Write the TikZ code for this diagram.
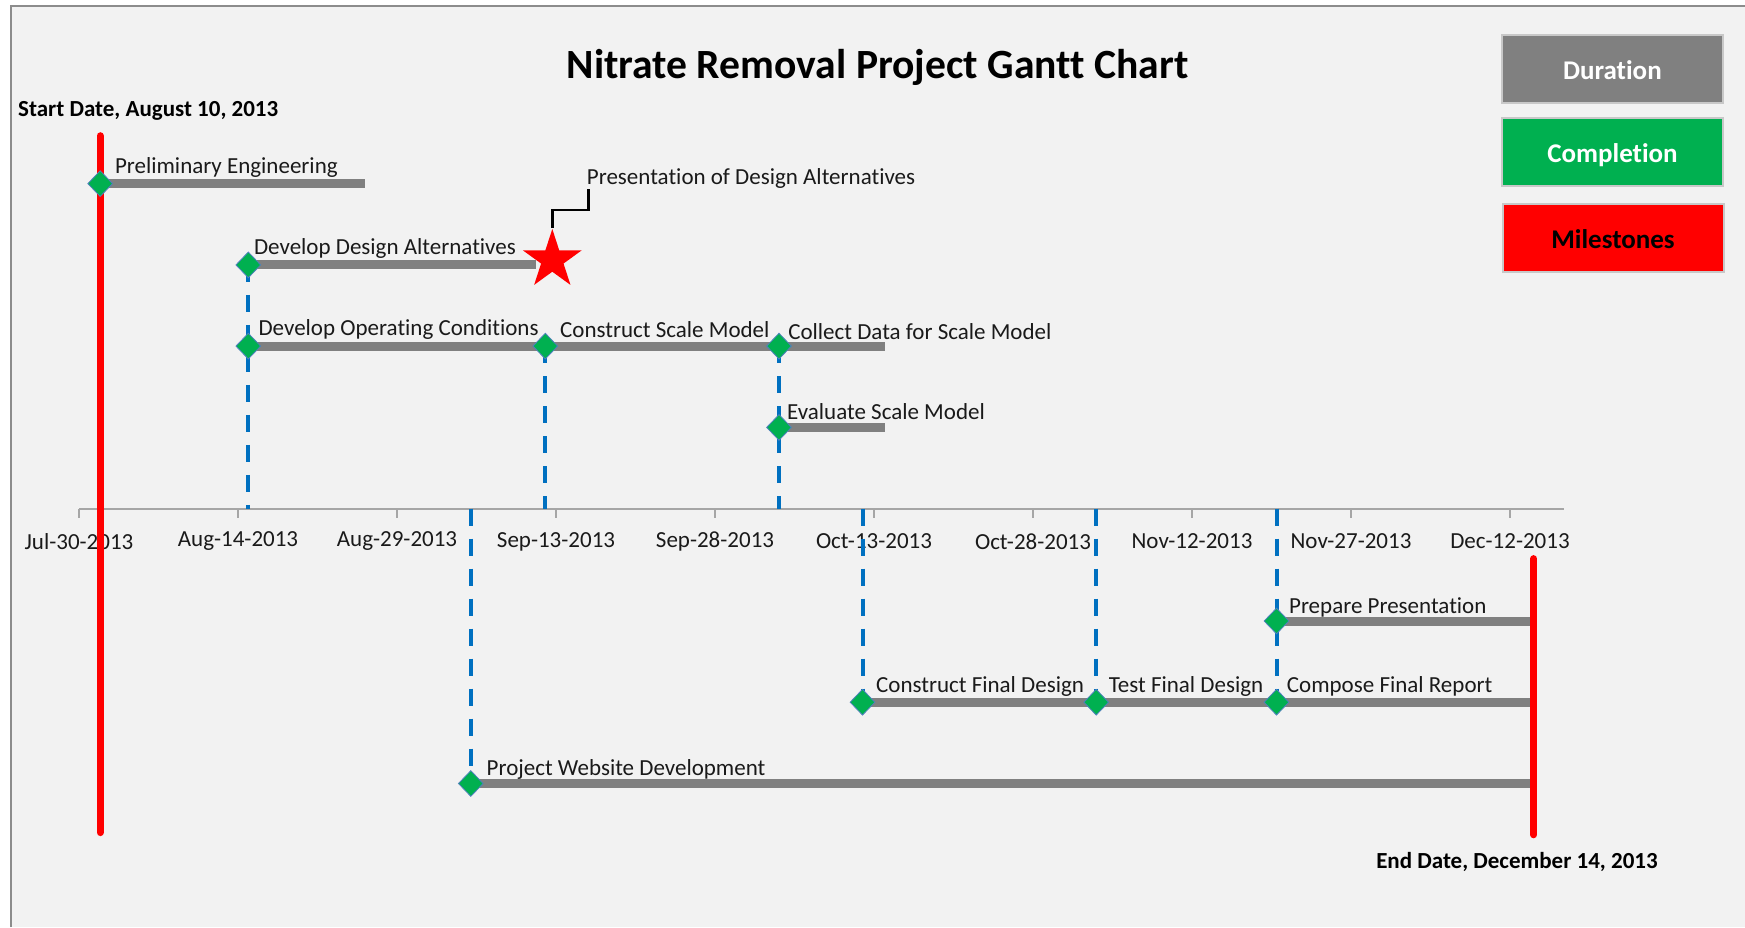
\documentclass[tikz,border=0pt]{standalone}
\usepackage{fontspec}
\setmainfont[Ligatures=NoCommon]{Carlito}
\usetikzlibrary{shapes.geometric}
\definecolor{bgc}{HTML}{F2F2F2}
\definecolor{barc}{HTML}{808080}
\definecolor{grn}{HTML}{00B050}
\definecolor{blu}{HTML}{0070C0}
\definecolor{framec}{HTML}{8C8C8C}
\definecolor{axc}{HTML}{A6A6A6}
\definecolor{legborder}{HTML}{C8C8C8}
\definecolor{diab}{HTML}{4F81BD}
\definecolor{txt}{HTML}{1A1A1A}
\begin{document}
\begin{tikzpicture}[x=0.5pt,y=-0.5pt,
  lbl/.style={anchor=west,inner sep=0pt,text=txt,font=\fontsize{11.5}{13}\selectfont},
  ticklbl/.style={inner sep=0pt,text=txt,font=\fontsize{11.5}{13}\selectfont},
  boldlbl/.style={inner sep=0pt,text=black,font=\fontsize{11.5}{13}\bfseries\selectfont},
  legbox/.style={draw=legborder,line width=1pt,minimum width=110.5pt,minimum height=34pt,inner sep=0pt,text height=10.6pt,text depth=0pt,font=\fontsize{13.5}{16}\bfseries\selectfont},
  bar/.style={draw=barc,line width=4.5pt},
  vdash/.style={draw=blu,line width=2pt,dash pattern=on 8.5pt off 6.5pt},
  redline/.style={draw=red,line width=3.6pt,line cap=round},
  axisline/.style={draw=axc,line width=0.9pt},
  dia/.style={diamond,fill=grn,draw=diab,line width=0.4pt,minimum width=12.5pt,minimum height=13pt,inner sep=0pt},
  callout/.style={draw=black,line width=1.35pt}]
\useasboundingbox (0,0) rectangle (1745,927);
\fill[white] (0,0) rectangle (1745,927);
\fill[bgc] (11,6) rectangle (1745,927);
\draw[framec,line width=1.2pt] (11,927) -- (11,6) -- (1745,6);

% title
\node[inner sep=0pt,font=\fontsize{20.8}{24}\bfseries\selectfont] (title) at (877.5,67.8) {Nitrate Removal Project Gantt Chart};

% legend
\node[legbox,fill=barc,text=white] (lgd) at (1612.4,69) {Duration};
\node[legbox,fill=grn,text=white] (lgc) at (1612.5,151.5) {Completion};
\node[legbox,fill=red,text=black] (lgm) at (1613,237.5) {Milestones};

% axis
\coordinate (axL) at (79,508.6);
\coordinate (axR) at (1563.6,508.6);
\draw[axisline] (axL) -- (axR);
\foreach \k/\lab in {0/Jul-30-2013,1/Aug-14-2013,2/Aug-29-2013,3/Sep-13-2013,4/Sep-28-2013,5/Oct-13-2013,6/Oct-28-2013,7/Nov-12-2013,8/Nov-27-2013,9/Dec-12-2013}{
  \coordinate (tk\k) at ({79+\k*159},508.6);
  \coordinate (tb\k) at ({79+\k*159},517.6);
  \draw[axisline] (tk\k) -- (tb\k);
  \node[ticklbl] (tl\k) at ({79+\k*159},541.4) {\lab};
}

% task anchor points
\coordinate (pe) at (100.2,183.6);
\coordinate (dda) at (248.3,264.9);
\coordinate (doc) at (248.3,346.1);
\coordinate (csm) at (545.3,346.1);
\coordinate (cds) at (779,346.1);
\coordinate (esm) at (779,427.4);
\coordinate (pp) at (1276.5,621);
\coordinate (cfd) at (862.5,702.2);
\coordinate (tfd) at (1096.2,702.2);
\coordinate (cfr) at (1276.5,702.2);
\coordinate (pwd) at (470.8,783.5);

\coordinate (peE) at (365,183.6);
\coordinate (ddaE) at (536,264.9);
\coordinate (cdsE) at (884.8,346.1);
\coordinate (esmE) at (884.8,427.4);

% start / end milestone lines
\coordinate (s1) at (100.2,135.8);
\coordinate (s2) at (100.2,832.5);
\coordinate (e1) at (1533.6,558.7);
\coordinate (e2) at (1533.6,834.7);

% dashed dependency lines
\draw[vdash] (dda) -- (dda |- axL);
\draw[vdash] (csm) -- (csm |- axL);
\draw[vdash] (cds) -- (cds |- axL);
\draw[vdash] (axL -| pwd) -- (pwd);
\draw[vdash] (axL -| cfd) -- (cfd);
\draw[vdash] (axL -| tfd) -- (tfd);
\draw[vdash] (axL -| cfr) -- (cfr);

% bars
\draw[bar] (pe) -- (peE);
\draw[bar] (dda) -- (ddaE);
\draw[bar] (doc) -- (csm);
\draw[bar] (csm) -- (cds);
\draw[bar] (cds) -- (cdsE);
\draw[bar] (esm) -- (esmE);
\draw[bar] (pp) -- (pp -| e1);
\draw[bar] (cfd) -- (tfd);
\draw[bar] (tfd) -- (cfr);
\draw[bar] (cfr) -- (cfr -| e1);
\draw[bar] (pwd) -- (pwd -| e1);

\draw[redline] (s1) -- (s2);
\draw[redline] (e1) -- (e2);

% diamonds
\foreach \n in {pe,dda,doc,csm,cds,esm,pp,cfd,tfd,cfr,pwd}{
  \node[dia] (\n-d) at (\n) {};
}

% milestone star and callout
\node[star,star points=5,star point ratio=2.618,fill=red,inner sep=0pt,minimum size=30.9pt] (star) at (552.3,259.9) {};
\coordinate (cb) at (588.3,210);
\coordinate (ct) at (588.3,189);
\draw[callout] (star.north) |- (cb) -- (ct);

% labels
\node[lbl] (l-pe) at (114.6,167.5) {Preliminary Engineering};
\node[lbl] (l-pres) at (586.5,178.6) {Presentation of Design Alternatives};
\node[lbl] (l-dda) at (253.7,248.8) {Develop Design Alternatives};
\node[lbl] (l-doc) at (258.2,329.3) {Develop Operating Conditions};
\node[lbl] (l-csm) at (559.8,329.3) {Construct Scale Model};
\node[lbl] (l-cds) at (787.9,331.3) {Collect Data for Scale Model};
\node[lbl] (l-esm) at (786.8,411.2) {Evaluate Scale Model};
\node[lbl] (l-pp) at (1288.7,607.1) {Prepare Presentation};
\node[lbl] (l-cfd) at (875.8,686.1) {Construct Final Design};
\node[lbl] (l-tfd) at (1108.4,686.1) {Test Final Design};
\node[lbl] (l-cfr) at (1286.5,686.1) {Compose Final Report};
\node[lbl] (l-pwd) at (486.3,769.6) {Project Website Development};

\node[boldlbl,anchor=west] (start) at (17.8,110.8) {Start Date, August 10, 2013};
\node[boldlbl] (end) at (1517,862) {End Date, December 14, 2013};
\end{tikzpicture}
\end{document}
